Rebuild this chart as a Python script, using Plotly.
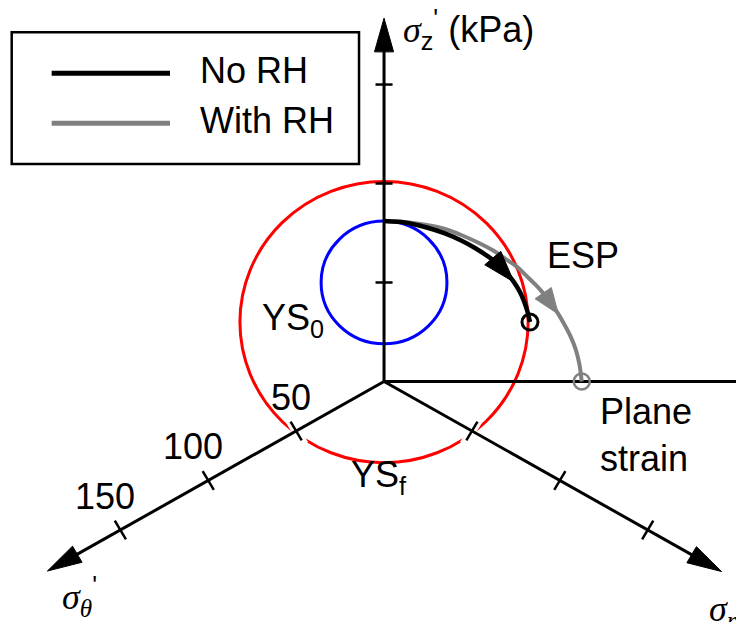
import math
import plotly.graph_objects as go

# Effective stress paths in the deviatoric (pi) plane, kPa.
# x runs to the right (towards plane strain), y runs along sigma_z'.
no_rh_x = [0.0, 10.0, 21.0, 30.0, 38.0, 45.0, 51.0, 56.0, 60.5, 64.0, 66.8, 68.8, 70.6, 71.9]
no_rh_y = [81.0, 80.3, 77.8, 74.8, 71.2, 67.3, 63.3, 59.5, 54.7, 50.2, 45.5, 41.0, 35.5, 30.0]

with_rh_x = [0.0, 10.0, 21.0, 30.0, 38.0, 46.0, 54.0, 60.0, 65.4, 70.0, 74.5, 78.5,
             82.5, 85.9, 89.0, 92.0, 94.5, 96.3, 97.4]
with_rh_y = [81.0, 80.6, 79.0, 77.0, 74.0, 70.3, 66.0, 61.8, 58.0, 53.5, 49.0, 44.5,
             39.3, 34.0, 28.5, 22.5, 16.0, 8.5, 0.0]

# Yield surfaces: centre (x, y) and radius, kPa
ys0_center = (0.0, 50.0)
ys0_radius = 31.0
ysf_center = (0.0, 30.0)
ysf_radius = 71.0

# Principal stress axes
axis_angles = [90.0, 210.0, 330.0]          # sigma_z', sigma_theta', sigma_r'
axis_lengths = [183.5, 191.5, 192.0]
plane_strain_length = 185.0

tick_values = [50, 100, 150]
tick_labels = ["50", "100", "150"]

FONT = "Liberation Sans, Arial, sans-serif"
SERIF = "Liberation Serif, Times New Roman, serif"
FS = 36

fig = go.Figure()


def unit(angle_deg):
    a = math.radians(angle_deg)
    return math.cos(a), math.sin(a)


def add_poly(xs, ys, color):
    fig.add_trace(go.Scatter(x=xs, y=ys, mode="lines", fill="toself", fillcolor=color,
                             line=dict(color=color, width=1), hoverinfo="skip",
                             showlegend=False))


def arrow_head(tip, direction, length, half_width, color):
    dx, dy = direction
    n = math.hypot(dx, dy)
    dx, dy = dx / n, dy / n
    bx, by = tip[0] - length * dx, tip[1] - length * dy
    px, py = -dy, dx
    add_poly([tip[0], bx + half_width * px, bx - half_width * px, tip[0]],
             [tip[1], by + half_width * py, by - half_width * py, tip[1]], color)


# white gaps where the diagonal ticks cross the yield surface
tick_half = [4.2, 5.5, 5.5]
for ang, th in zip(axis_angles[1:], tick_half[1:]):
    ux, uy = unit(ang)
    for v in tick_values:
        cx, cy = v * ux, v * uy
        fig.add_trace(go.Scatter(
            x=[cx - 1.45 * th * uy, cx + 1.45 * th * uy],
            y=[cy + 1.45 * th * ux, cy - 1.45 * th * ux],
            mode="lines", line=dict(color="white", width=9),
            hoverinfo="skip", showlegend=False))

# axis lines
for ang, L in zip(axis_angles, axis_lengths):
    ux, uy = unit(ang)
    fig.add_trace(go.Scatter(x=[0, (L - 10) * ux], y=[0, (L - 10) * uy], mode="lines",
                             line=dict(color="black", width=3), hoverinfo="skip",
                             showlegend=False))
    arrow_head((L * ux, L * uy), (ux, uy), 17.0, 4.7, "black")

# plane-strain direction
fig.add_trace(go.Scatter(x=[0, plane_strain_length], y=[0, 0], mode="lines",
                         line=dict(color="black", width=3), hoverinfo="skip",
                         showlegend=False))

# tick marks
for ang, th in zip(axis_angles, tick_half):
    ux, uy = unit(ang)
    for v in tick_values:
        cx, cy = v * ux, v * uy
        fig.add_trace(go.Scatter(x=[cx - th * uy, cx + th * uy],
                                 y=[cy + th * ux, cy - th * ux],
                                 mode="lines", line=dict(color="black", width=2.5),
                                 hoverinfo="skip", showlegend=False))

# tick labels along sigma_theta'
ux, uy = unit(axis_angles[1])
for v, lab in zip(tick_values, tick_labels):
    fig.add_annotation(x=v * ux, y=v * uy, text=lab, showarrow=False,
                       xanchor="right", yanchor="bottom", xshift=17, yshift=11,
                       font=dict(family=FONT, size=FS, color="black"))

# stress paths
fig.add_trace(go.Scatter(x=with_rh_x, y=with_rh_y, mode="lines", name="With RH",
                         line=dict(color="#808080", width=4, shape="spline", smoothing=0.6),
                         showlegend=False))
fig.add_trace(go.Scatter(x=no_rh_x, y=no_rh_y, mode="lines", name="No RH",
                         line=dict(color="black", width=4.5, shape="spline", smoothing=0.6),
                         showlegend=False))

# direction arrows on the paths
i = 13
arrow_head((with_rh_x[i], with_rh_y[i]),
           (with_rh_x[i] - with_rh_x[i - 2], with_rh_y[i] - with_rh_y[i - 2]),
           13.0, 4.9, "#808080")
i = 9
arrow_head((no_rh_x[i], no_rh_y[i]),
           (no_rh_x[i] - no_rh_x[i - 2], no_rh_y[i] - no_rh_y[i - 2]),
           16.0, 5.2, "black")

# end points of the paths
fig.add_trace(go.Scatter(x=[no_rh_x[-1]], y=[no_rh_y[-1]], mode="markers",
                         marker=dict(symbol="circle-open", size=16, color="black",
                                     line=dict(width=3, color="black")),
                         hoverinfo="skip", showlegend=False))
fig.add_trace(go.Scatter(x=[with_rh_x[-1]], y=[with_rh_y[-1]], mode="markers",
                         marker=dict(symbol="circle-open", size=16, color="#808080",
                                     line=dict(width=2.5, color="#808080")),
                         hoverinfo="skip", showlegend=False))

# yield surfaces
for (cx, cy), r, col in [(ys0_center, ys0_radius, "#0000ff"), (ysf_center, ysf_radius, "#ff0000")]:
    fig.add_shape(type="circle", xref="x", yref="y", x0=cx - r, x1=cx + r,
                  y0=cy - r, y1=cy + r, line=dict(color=col, width=3), layer="below")

# labels
def label(x, y, text, xanchor="left", yanchor="middle", size=FS):
    fig.add_annotation(x=x, y=y, text=text, showarrow=False, xanchor=xanchor,
                       yanchor=yanchor, align="left",
                       font=dict(family=FONT, size=size, color="black"))


sig = "<span style='font-family:" + SERIF + "'><i>σ</i></span>"
label(8.5, 178.0, sig + "<sub>z</sub><sup>'</sup> (kPa)")
label(-159.5, -108.8, sig + "<sub><span style='font-family:" + SERIF + "'><i>θ</i></span></sub><sup>'</sup>")
label(159.1, -116.4, sig + "<sub><span style='font-family:" + SERIF + "'><i>r</i></span></sub>")
label(79.5, 63.6, "ESP")
label(-61.0, 31.3, "YS<sub>0</sub>", yanchor="middle")
label(-17.5, -48.0, "YS<sub>f</sub>", yanchor="middle")
label(105.5, -4.0, "Plane<br>strain", yanchor="top")

# legend box
fig.add_shape(type="rect", xref="paper", yref="paper", x0=0.0159, x1=0.4878,
              y0=0.7363, y1=0.948, line=dict(color="black", width=2.5),
              fillcolor="white", layer="above")
for yy, col, text in [(0.8822, "black", "No RH"), (0.8018, "#808080", "With RH")]:
    fig.add_shape(type="line", xref="paper", yref="paper", x0=0.0702, x1=0.231,
                  y0=yy, y1=yy, line=dict(color=col, width=5), layer="above")
    fig.add_annotation(xref="paper", yref="paper", x=0.2690, y=yy + 0.004, text=text,
                       showarrow=False, xanchor="left", yanchor="middle",
                       font=dict(family=FONT, size=FS, color="black"))

fig.update_layout(
    width=736, height=622, autosize=False,
    margin=dict(l=0, r=0, t=0, b=0),
    paper_bgcolor="white", plot_bgcolor="white",
    xaxis=dict(range=[-189.2, 173.4], visible=False, fixedrange=True),
    yaxis=dict(range=[-121.5, 192.7], visible=False, fixedrange=True),
    showlegend=False,
)

fig.write_html("out.html")
